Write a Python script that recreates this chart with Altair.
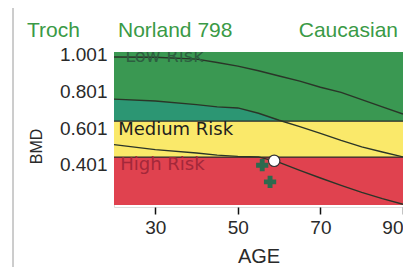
import altair as alt
import pandas as pd

# ---- data ----
ages = [20, 30, 40, 45, 50, 55, 60, 65, 70, 75, 80, 85, 90]
upper_curve = [0.990, 0.988, 0.978, 0.960, 0.940, 0.915, 0.886, 0.858, 0.825, 0.797, 0.757, 0.718, 0.679]
middle_curve = [0.760, 0.750, 0.730, 0.718, 0.712, 0.683, 0.645, 0.610, 0.573, 0.535, 0.500, 0.472, 0.445]
lower_curve = [0.512, 0.485, 0.466, 0.455, 0.448, 0.445, 0.415, 0.372, 0.330, 0.290, 0.252, 0.218, 0.187]

band_names = ["Low Risk", "Medium Risk", "High Risk"]
band_low = [0.640, 0.444, 0.183]
band_high = [1.017, 0.640, 0.444]
band_colors = ["#3a9852", "#fae96a", "#e0424f"]
band_label_age = [22.7, 21.0, 21.5]
band_label_bmd = [0.963, 0.565, 0.374]
band_label_colors = ["#2d5e40", "#1e1e1e", "#a3283a"]
boundaries = [0.640, 0.444]

patient_age = [58.8]
patient_bmd = [0.424]
prior_age = [55.9, 57.8]
prior_bmd = [0.400, 0.309]

header_texts = ["Troch", "Norland 798", "Caucasian"]
y_ticks = [0.401, 0.601, 0.801, 1.001]
x_ticks = [30, 50, 70, 90]

# ---- tables ----
bands = pd.DataFrame({"band": band_names, "lo": band_low, "hi": band_high,
                      "a0": [20] * 3, "a1": [90] * 3})
curves = pd.DataFrame({
    "age": ages * 3,
    "bmd": upper_curve + middle_curve + lower_curve,
    "curve": ["upper"] * len(ages) + ["middle"] * len(ages) + ["lower"] * len(ages),
})
middle = pd.DataFrame({"age": ages, "bmd": middle_curve})
labels = pd.DataFrame({"lab": band_names, "age": band_label_age, "bmd": band_label_bmd})
bounds = pd.DataFrame({"b": boundaries})
patient = pd.DataFrame({"age": patient_age, "bmd": patient_bmd})
prior = pd.DataFrame({"age": prior_age, "bmd": prior_bmd})

W, H = 289, 155
xs = alt.Scale(domain=[20, 90], nice=False, zero=False)
ys = alt.Scale(domain=[0.172, 1.017], nice=False, zero=False)

x_axis = alt.Axis(values=x_ticks, title="AGE", grid=False, domain=False,
                  tickSize=7, tickColor="#111", tickWidth=1.5, labelFlush=True,
                  labelFontSize=19, labelFont="Liberation Sans", labelColor="#2a2a2a",
                  labelPadding=4, titleFontSize=20, titleFont="Liberation Sans",
                  titleFontWeight="normal", titleColor="#2a2a2a", titlePadding=9)
y_axis = alt.Axis(values=y_ticks, format=".3f", title="BMD", grid=False, domain=False,
                  ticks=False, labelPadding=7, labelFontSize=19,
                  labelFont="Liberation Sans", labelColor="#2a2a2a",
                  titleFontSize=16, titleFont="Liberation Sans", titleFontWeight="normal",
                  titleColor="#2a2a2a", titleX=-78, titleY=94, titleAlign="center",
                  titleBaseline="middle", titleAngle=270)

band_color = alt.Color("band:N", scale=alt.Scale(domain=band_names, range=band_colors), legend=None)

green = alt.Chart(bands).transform_filter(alt.datum.band == "Low Risk").mark_rect().encode(
    x=alt.X("a0:Q", scale=xs, axis=x_axis), x2="a1:Q",
    y=alt.Y("lo:Q", scale=ys, axis=y_axis), y2="hi:Q",
    color=band_color)

teal = alt.Chart(middle).mark_area(color="#2c9673", interpolate="linear").encode(
    x=alt.X("age:Q", scale=xs), y=alt.Y("bmd:Q", scale=ys), y2=alt.datum(0.640))

lower_bands = alt.Chart(bands).transform_filter(alt.datum.band != "Low Risk").mark_rect().encode(
    x=alt.X("a0:Q", scale=xs), x2="a1:Q",
    y=alt.Y("lo:Q", scale=ys), y2="hi:Q",
    color=band_color)

bound_rules = alt.Chart(bounds).mark_rule(color="#2a2a2a", strokeWidth=1.2).encode(
    y=alt.Y("b:Q", scale=ys))

lines = alt.Chart(curves).mark_line(color="#2a3528", strokeWidth=1.4).encode(
    x=alt.X("age:Q", scale=xs), y=alt.Y("bmd:Q", scale=ys), detail="curve:N")

band_text = alt.Chart(labels).mark_text(align="left", baseline="alphabetic", fontSize=18,
                                        font="DejaVu Sans", clip=True).encode(
    x=alt.X("age:Q", scale=xs), y=alt.Y("bmd:Q", scale=ys), text="lab:N",
    fill=alt.Fill("lab:N", scale=alt.Scale(domain=band_names, range=band_label_colors), legend=None))

prior_pts = alt.Chart(prior).mark_point(shape="cross", filled=True, size=150, color="#2d6a4e",
                                         opacity=1).encode(
    x=alt.X("age:Q", scale=xs), y=alt.Y("bmd:Q", scale=ys))

patient_pt = alt.Chart(patient).mark_point(shape="circle", filled=True, size=130, fill="#ffffff",
                                            stroke="#333333", strokeWidth=1.2, opacity=1).encode(
    x=alt.X("age:Q", scale=xs), y=alt.Y("bmd:Q", scale=ys))

hdr = pd.DataFrame({"t": header_texts})
hdr_style = dict(baseline="alphabetic", fontSize=21, font="Liberation Sans", color="#3a9a46")
h1 = alt.Chart(hdr).transform_filter(alt.datum.t == header_texts[0]).mark_text(align="left", **hdr_style).encode(
    x=alt.value(-87), y=alt.value(-15), text="t:N")
h2 = alt.Chart(hdr).transform_filter(alt.datum.t == header_texts[1]).mark_text(align="left", **hdr_style).encode(
    x=alt.value(4), y=alt.value(-15), text="t:N")
h3 = alt.Chart(hdr).transform_filter(alt.datum.t == header_texts[2]).mark_text(align="right", **hdr_style).encode(
    x=alt.value(284), y=alt.value(-15), text="t:N")

frame_top = alt.Chart(hdr).transform_filter(alt.datum.t == header_texts[0]).mark_rule(
    color="#9a9a9a", strokeWidth=1).encode(x=alt.value(-101), x2=alt.value(289), y=alt.value(-47))
frame_left = alt.Chart(hdr).transform_filter(alt.datum.t == header_texts[0]).mark_rule(
    color="#9a9a9a", strokeWidth=1).encode(x=alt.value(-101), y=alt.value(-47), y2=alt.value(215))

chart = alt.layer(
    green, teal, lower_bands, bound_rules, lines, band_text, prior_pts, patient_pt,
    h1, h2, h3, frame_top, frame_left
).properties(
    width=W, height=H,
    autosize=alt.AutoSizeParams(type="none"),
    padding={"left": 106, "top": 44, "right": 0, "bottom": 60},
).configure_view(
    stroke="#111111", strokeWidth=1.5
).configure(background="#ffffff")

chart.save("out.html", embed_options={"renderer": "svg", "actions": False})
